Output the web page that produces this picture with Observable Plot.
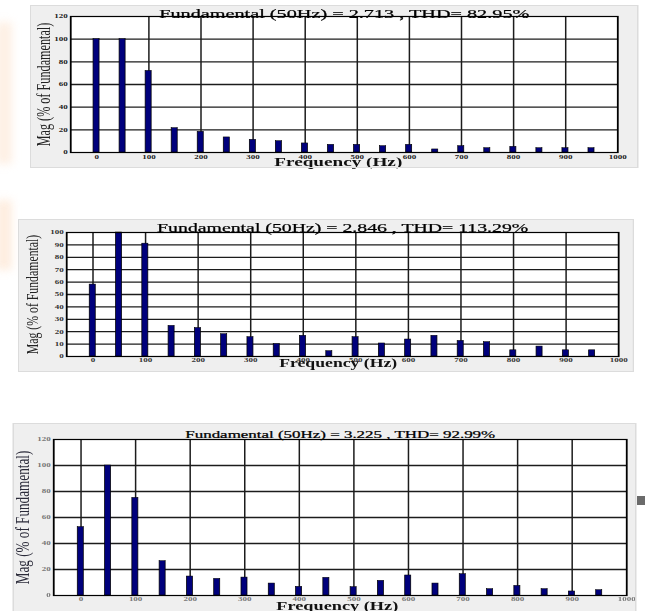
<!DOCTYPE html>
<html>
<head>
<meta charset="utf-8">
<script src="https://cdn.jsdelivr.net/npm/d3@7"></script>
<script src="https://cdn.jsdelivr.net/npm/@observablehq/plot@0.6"></script>
<style>
  body { margin: 0; background: #fff; }
  #page { position: relative; width: 645px; height: 611px; overflow: hidden; background: #fff; }
  /* the harmonic spectra are drawn narrow and widened horizontally */
  .panel { position: absolute; transform: scaleX(1.5); transform-origin: 0 0; }
  .panel svg { display: block; }
  .marker { position: absolute; left: 637px; top: 496px; width: 8px; height: 9px; background: #6b6b6b; }
  .tint { position: absolute; left: -4px; width: 16px; background: #fde4cf; filter: blur(4px); }
</style>
</head>
<body>
<div id="page">
  <div class="tint" style="top:22px;height:142px;opacity:0.55"></div>
  <div class="tint" style="top:200px;height:70px;opacity:0.65"></div>
  <div class="marker"></div>
</div>
<script>
// Harmonic frequencies (Hz)
const freqs = [0, 50, 100, 150, 200, 250, 300, 350, 400, 450, 500, 550, 600, 650, 700, 750, 800, 850, 900, 950];

// Magnitude of each harmonic, % of fundamental
const magsA = [100, 100, 72, 21.5, 18.3, 13.3, 11.2, 10, 8, 6.8, 6.8, 5.6, 6.8, 2.7, 5.6, 3.8, 5, 3.8, 3.8, 3.8];
const magsB = [58, 100, 91, 24.7, 23, 18, 15.6, 10, 16.7, 4.3, 15.6, 10.5, 13.7, 16.7, 12.6, 11.6, 5, 8, 5, 5];
const magsC = [52.6, 100, 75.1, 26.4, 14.6, 12.8, 13.8, 9.2, 6.7, 13.6, 6.4, 11.3, 15.4, 9.2, 16.4, 4.9, 7.4, 4.9, 3.1, 4.1];

// Fundamental amplitude and total harmonic distortion per spectrum
const fundamentals = ["2.713", "2.846", "3.225"];
const thdValues = ["82.95", "113.29", "92.99"];

// Axis ticks and grid positions
const xTicks = [0, 100, 200, 300, 400, 500, 600, 700, 800, 900, 1000];
const xGridA = [100, 200, 300, 400, 500, 600, 700, 800, 900];
const xGridBC = [0, 100, 200, 300, 400, 500, 600, 700, 800, 900];
const yTicks120 = [0, 20, 40, 60, 80, 100, 120];
const yGrid120 = [20, 40, 60, 80, 100];
const yTicks100 = [0, 10, 20, 30, 40, 50, 60, 70, 80, 90, 100];
const yGrid100 = [10, 20, 30, 40, 50, 60, 70, 80, 90];

const xLabel = "Frequency (Hz)";
const yLabel = "Mag (% of Fundamental)";

const serif = "'Liberation Serif', 'Times New Roman', serif";

function spectrum(cfg) {
  const rows = freqs.map((f, i) => ({f, v: cfg.mags[i]}));
  const title = `Fundamental (50Hz) = ${cfg.fund} , THD= ${cfg.thd}%`;
  const chart = Plot.plot({
    width: cfg.width,
    height: cfg.height,
    marginLeft: cfg.ml,
    marginRight: cfg.mr,
    marginTop: cfg.mt,
    marginBottom: cfg.mb,
    style: {background: "#efefef", fontFamily: serif, color: "#000", overflow: "visible"},
    x: {domain: [-50, 1000]},
    y: {domain: [0, cfg.yMax]},
    marks: [
      Plot.frame({fill: "#fff"}),
      Plot.ruleX(cfg.xGrid, {stroke: "#1c1c1c", strokeWidth: 1}),
      Plot.ruleY(cfg.yGrid, {stroke: "#1c1c1c", strokeWidth: 1.3}),
      Plot.rectY(rows, {x1: "f", x2: "f", y1: 0, y2: "v", insetLeft: -2, insetRight: -2,
        fill: "#00007c", stroke: "#000", strokeWidth: 0.5}),
      Plot.frame({stroke: "#000", strokeWidth: 1.2}),
      Plot.axisX({ticks: xTicks, tickFormat: "d", tickSize: 0, tickPadding: cfg.xPad,
        fontSize: 6, fontWeight: "bold", color: cfg.tickColor, label: null}),
      Plot.axisY({ticks: cfg.yTicks, tickFormat: "d", tickSize: 0, tickPadding: 2,
        fontSize: 6, fontWeight: "bold", color: cfg.tickColor, label: null}),
      Plot.text([title], {text: d => d, frameAnchor: "top", lineAnchor: "bottom",
        dy: cfg.titleDy, fontSize: cfg.titleSize, fill: "#000",
        stroke: "#000", strokeWidth: 0.25}),
      Plot.text([xLabel], {text: d => d, frameAnchor: "bottom", lineAnchor: "bottom",
        dx: cfg.xlDx, dy: cfg.xlDy, fontSize: cfg.xlSize, fontWeight: "bold", fill: "#111"}),
      Plot.text([yLabel], {text: d => d, frameAnchor: "left", textAnchor: "middle",
        rotate: -90, dx: cfg.ylDx, fontSize: cfg.ylSize, fill: cfg.ylColor})
    ]
  });
  const wrap = document.createElement("div");
  wrap.className = "panel";
  wrap.style.left = cfg.left + "px";
  wrap.style.top = cfg.top + "px";
  wrap.style.outline = "1px solid #dcdcdc";
  wrap.appendChild(chart);
  document.getElementById("page").appendChild(wrap);
}

spectrum({
  left: 31, top: 6, width: 404, height: 161, ml: 26, mr: 13.3, mt: 10, mb: 15,
  mags: magsA, fund: fundamentals[0], thd: thdValues[0],
  yMax: 120, yTicks: yTicks120, yGrid: yGrid120, xGrid: xGridA,
  xPad: 2, tickColor: "#1a1a1a",
  titleSize: 13.5, titleDy: 1,
  xlSize: 12.8, xlDx: -4, xlDy: 13,
  ylSize: 12.2, ylDx: -18, ylColor: "#222"
});

spectrum({
  left: 19, top: 220, width: 409.3, height: 151, ml: 31.3, mr: 10, mt: 12, mb: 15,
  mags: magsB, fund: fundamentals[1], thd: thdValues[1],
  yMax: 100, yTicks: yTicks100, yGrid: yGrid100, xGrid: xGridBC,
  xPad: 1, tickColor: "#333",
  titleSize: 13.2, titleDy: 0,
  xlSize: 11.8, xlDx: -3, xlDy: 11,
  ylSize: 11.8, ylDx: -22.7, ylColor: "#222"
});

spectrum({
  left: 14, top: 424, width: 414, height: 187, ml: 26, mr: 6, mt: 15, mb: 16,
  mags: magsC, fund: fundamentals[2], thd: thdValues[2],
  yMax: 120, yTicks: yTicks120, yGrid: yGrid120, xGrid: xGridBC,
  xPad: 1, tickColor: "#777",
  titleSize: 11.3, titleDy: -2,
  xlSize: 12.2, xlDx: -2, xlDy: 14,
  ylSize: 13.2, ylDx: -20.7, ylColor: "#2b2b3a"
});
</script>
</body>
</html>
